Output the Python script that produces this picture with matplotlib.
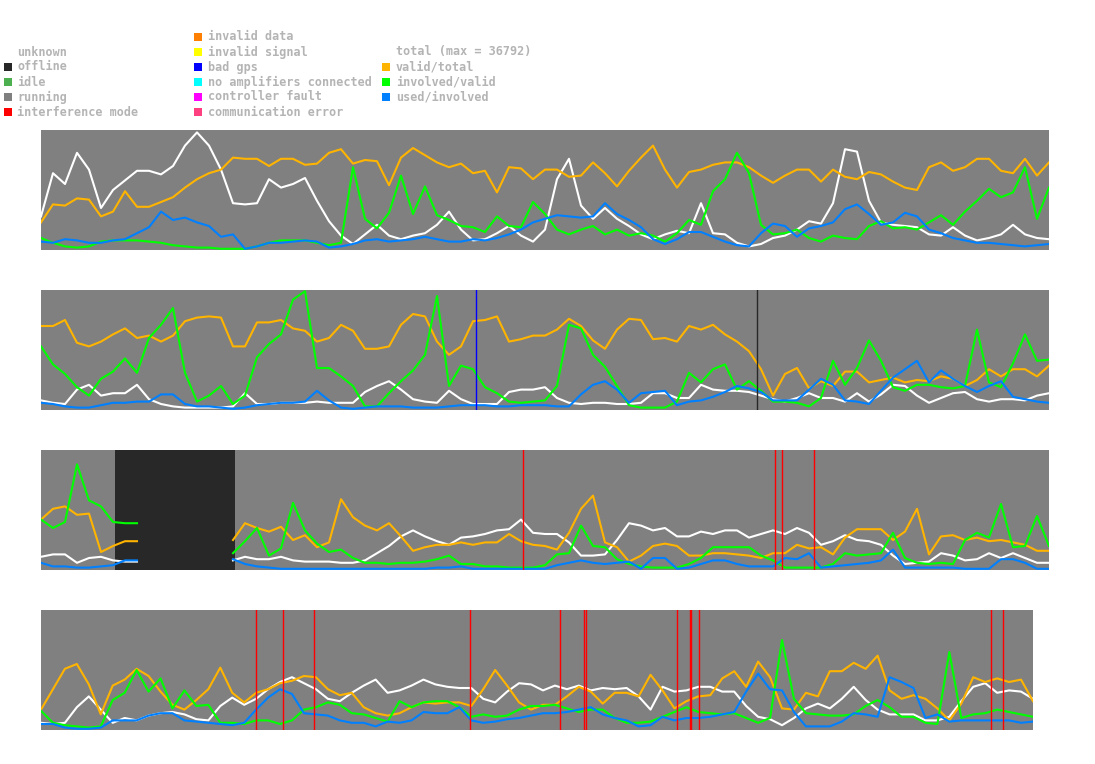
import numpy as np
import matplotlib
matplotlib.use('Agg')
import matplotlib.pyplot as plt
from matplotlib.patches import Rectangle

# ---- legend data ----
state_labels = ['unknown', 'offline', 'idle', 'running', 'interference mode']
state_colors = [None, '#282828', '#4caf50', '#808080', '#ff0000']
error_labels = ['invalid data', 'invalid signal', 'bad gps', 'no amplifiers connected',
                'controller fault', 'communication error']
error_colors = ['#ff8000', '#ffff00', '#0000ff', '#00ffff', '#ff00ff', '#ff4080']
ratio_labels = ['total (max = 36792)', 'valid/total', 'involved/valid', 'used/involved']
ratio_colors = ['#ffffff', '#ffb400', '#00ff00', '#0080ff']

# ---- series (percent of panel height), one sample every 12 px ----
p1_total = [28, 64, 55, 81, 67, 35, 50, 58, 66, 66, 63, 70, 87, 98, 87, 67, 39, 38, 39, 59,
            52, 55, 60, 41, 24, 12, 5, 13, 21, 12, 9, 12, 14, 21, 32, 17, 8, 9, 14, 20,
            12, 7, 17, 59, 76, 37, 26, 35, 26, 20, 13, 9, 13, 16, 14, 39, 14, 13, 6, 3,
            5, 10, 12, 17, 24, 22, 39, 84, 82, 41, 23, 21, 20, 19, 13, 12, 19, 12, 8, 10,
            13, 21, 13, 10, 9]
p1_valid = [23, 38, 37, 43, 42, 28, 32, 49, 36, 36, 40, 44, 52, 59, 64, 67, 77, 76, 76, 70,
            76, 76, 71, 72, 81, 84, 72, 75, 74, 54, 77, 85, 79, 73, 69, 72, 64, 66, 48, 69,
            68, 59, 67, 67, 61, 62, 73, 64, 53, 66, 77, 87, 67, 52, 65, 67, 71, 73, 73, 69,
            62, 56, 62, 67, 67, 57, 67, 61, 59, 65, 63, 57, 52, 50, 69, 73, 66, 69, 76, 76,
            66, 64, 76, 62, 73]
p1_involved = [10, 6, 3, 2, 3, 7, 8, 8, 8, 7, 6, 4, 3, 2, 2, 1, 1, 1, 3, 6,
               8, 8, 8, 6, 4, 6, 69, 26, 18, 31, 62, 30, 53, 29, 25, 20, 19, 15, 28, 20,
               19, 40, 30, 17, 13, 17, 20, 13, 17, 12, 14, 12, 7, 14, 25, 21, 49, 59, 81, 64,
               21, 13, 14, 17, 10, 7, 12, 10, 9, 20, 24, 18, 19, 17, 23, 29, 21, 32, 41, 51,
               44, 48, 69, 26, 52]
p1_used = [7, 6, 9, 8, 6, 6, 8, 9, 14, 19, 32, 25, 27, 23, 20, 11, 13, 1, 3, 6,
           6, 7, 8, 7, 2, 3, 5, 8, 9, 7, 8, 9, 11, 9, 7, 7, 9, 8, 10, 13,
           17, 23, 26, 29, 28, 27, 28, 39, 30, 25, 19, 9, 5, 9, 15, 15, 11, 7, 4, 3,
           14, 22, 20, 11, 18, 20, 23, 34, 38, 30, 21, 23, 31, 28, 17, 14, 10, 8, 6, 6,
           5, 4, 3, 4, 5]

p2_total = [8, 6, 5, 17, 21, 12, 14, 14, 21, 9, 5, 3, 2, 2, 2, 2, 3, 14, 5, 5,
            6, 6, 6, 7, 6, 6, 6, 15, 20, 24, 17, 9, 7, 6, 16, 9, 5, 5, 5, 15,
            17, 17, 19, 10, 6, 5, 6, 6, 5, 5, 6, 14, 14, 10, 10, 21, 17, 16, 16, 15,
            12, 9, 7, 10, 14, 10, 10, 7, 14, 7, 13, 21, 20, 12, 6, 10, 14, 15, 9, 7,
            9, 9, 8, 12, 14]
p2_valid = [70, 70, 75, 56, 53, 57, 63, 68, 60, 62, 57, 62, 74, 77, 78, 77, 53, 53, 73, 73,
            75, 68, 66, 57, 60, 71, 66, 51, 51, 53, 71, 80, 78, 57, 46, 53, 74, 75, 78, 57,
            59, 62, 62, 67, 76, 70, 58, 51, 67, 76, 75, 59, 60, 57, 70, 67, 71, 63, 57, 49,
            34, 12, 30, 35, 18, 24, 20, 32, 32, 23, 25, 27, 23, 25, 24, 28, 26, 20, 25, 34,
            28, 34, 34, 28, 37]
p2_involved = [53, 38, 30, 19, 12, 26, 32, 43, 31, 60, 71, 85, 31, 7, 12, 20, 5, 12, 44, 55,
               63, 92, 99, 35, 35, 28, 20, 3, 3, 14, 24, 33, 46, 95, 20, 37, 34, 19, 14, 7,
               6, 7, 8, 20, 71, 68, 46, 36, 20, 4, 2, 2, 2, 7, 31, 23, 34, 38, 17, 24,
               16, 7, 7, 6, 3, 10, 41, 21, 35, 58, 41, 19, 16, 21, 21, 19, 18, 20, 67, 23,
               19, 39, 63, 41, 42]
p2_used = [6, 5, 3, 2, 2, 4, 6, 6, 7, 7, 13, 13, 5, 3, 3, 2, 1, 2, 4, 5,
           6, 6, 7, 16, 8, 2, 1, 2, 3, 3, 3, 2, 2, 2, 3, 4, 4, 4, 3, 3,
           4, 4, 4, 3, 3, 13, 21, 24, 17, 6, 14, 15, 16, 4, 7, 8, 11, 15, 20, 18,
           15, 8, 8, 8, 17, 26, 21, 8, 7, 5, 16, 27, 34, 41, 23, 33, 26, 20, 15, 20,
           24, 11, 9, 7, 6]

N = None  # no data while the station was offline
p3_total = [11, 13, 13, 6, 10, 11, 8, 7, 7, N, N, N, N, N, N, N, 8, 11, 9, 9,
            11, 8, 7, 7, 7, 6, 6, 8, 14, 20, 28, 33, 28, 24, 21, 27, 28, 30, 33, 34,
            42, 31, 30, 30, 23, 12, 12, 13, 25, 39, 37, 33, 35, 28, 28, 32, 30, 33, 33, 27,
            30, 33, 30, 35, 31, 21, 24, 29, 25, 24, 21, 12, 5, 6, 7, 14, 12, 8, 9, 14,
            10, 14, 10, 6, 6]
p3_valid = [42, 51, 53, 46, 47, 15, 20, 24, 24, N, N, N, N, N, N, N, 25, 39, 35, 32,
            36, 25, 29, 19, 23, 59, 44, 37, 33, 39, 28, 16, 19, 21, 21, 23, 21, 23, 23, 30,
            24, 21, 20, 17, 31, 51, 62, 23, 19, 7, 12, 20, 22, 20, 12, 12, 14, 14, 13, 12,
            10, 14, 14, 21, 18, 19, 13, 27, 34, 34, 34, 25, 32, 51, 13, 28, 29, 25, 27, 24,
            25, 23, 21, 16, 16]
p3_involved = [42, 35, 40, 88, 58, 53, 40, 39, 39, N, N, N, N, N, N, N, 14, 24, 35, 12,
               18, 56, 33, 22, 15, 17, 10, 6, 6, 5, 6, 6, 7, 9, 12, 5, 5, 3, 3, 2,
               2, 2, 4, 13, 14, 37, 20, 19, 9, 5, 3, 2, 2, 2, 5, 10, 19, 19, 19, 19,
               12, 8, 2, 2, 2, 2, 5, 14, 12, 13, 14, 31, 10, 6, 5, 6, 5, 25, 31, 27,
               55, 19, 20, 45, 20]
p3_used = [6, 3, 3, 2, 2, 3, 4, 8, 8, N, N, N, N, N, N, N, 9, 5, 3, 2,
           1, 1, 1, 1, 1, 1, 1, 1, 1, 1, 1, 1, 1, 2, 2, 3, 1, 1, 1, 1,
           1, 1, 1, 4, 6, 8, 6, 5, 6, 7, 1, 10, 10, 1, 2, 5, 8, 8, 5, 3,
           3, 3, 10, 9, 14, 2, 3, 4, 5, 6, 8, 17, 2, 2, 2, 2, 2, 1, 1, 1,
           9, 9, 6, 1, 1]

p4_total = [6, 5, 6, 19, 28, 17, 6, 10, 8, 12, 14, 15, 13, 9, 8, 20, 27, 21, 26, 34,
            40, 44, 39, 34, 26, 24, 31, 37, 42, 31, 33, 37, 42, 38, 36, 35, 35, 26, 23, 32,
            39, 38, 33, 37, 34, 37, 33, 35, 34, 35, 28, 17, 36, 32, 33, 36, 36, 32, 32, 20,
            11, 9, 4, 10, 18, 22, 18, 26, 36, 25, 17, 13, 13, 13, 8, 8, 11, 24, 36, 39,
            31, 33, 32, 26]
p4_valid = [17, 34, 51, 55, 38, 13, 37, 42, 51, 45, 32, 21, 17, 25, 34, 52, 31, 23, 31, 34,
            39, 41, 45, 44, 34, 29, 31, 19, 14, 12, 14, 19, 23, 22, 23, 23, 20, 34, 50, 37,
            23, 17, 21, 21, 28, 36, 32, 22, 31, 31, 28, 46, 33, 18, 24, 28, 29, 43, 49, 36,
            57, 44, 18, 17, 31, 28, 49, 49, 56, 51, 62, 33, 26, 29, 26, 18, 8, 22, 44, 40,
            43, 40, 42, 24]
p4_involved = [16, 6, 4, 3, 2, 3, 25, 31, 50, 32, 43, 18, 33, 20, 21, 6, 6, 5, 8, 8,
               5, 8, 17, 19, 23, 21, 14, 13, 10, 7, 24, 19, 23, 24, 24, 19, 11, 13, 11, 12,
               17, 20, 20, 21, 18, 15, 17, 17, 10, 6, 6, 7, 11, 15, 19, 15, 14, 13, 14, 10,
               6, 10, 75, 26, 14, 13, 12, 12, 13, 20, 25, 19, 11, 11, 6, 5, 65, 10, 13, 14,
               17, 15, 13, 11]
p4_used = [5, 5, 2, 1, 1, 2, 8, 8, 8, 12, 14, 14, 8, 7, 6, 5, 4, 6, 17, 27,
           34, 30, 14, 13, 12, 8, 6, 6, 3, 7, 6, 8, 15, 14, 14, 19, 8, 6, 7, 9,
           10, 12, 14, 14, 15, 17, 19, 13, 10, 8, 3, 4, 11, 8, 10, 10, 11, 13, 15, 32,
           47, 34, 33, 15, 3, 3, 3, 7, 14, 13, 11, 44, 40, 35, 10, 13, 7, 8, 8, 8,
           8, 8, 6, 7]

# ---- events (in sample index units) ----
p2_bad_gps = [36.25]
p2_offline = [59.67]
p3_offline_span = (6.17, 16.17)
p3_interference = [40.17, 61.17, 61.75, 64.42]
p4_interference = [17.99, 20.25, 22.84, 35.89, 43.42, 45.43, 45.6, 53.19,
                   54.3, 54.42, 55.08, 79.48, 80.49]

W, H = 1095, 764
fig = plt.figure(figsize=(W / 100, H / 100), dpi=100)
fig.patch.set_facecolor('white')


def px_axes(x0, y0, w, h):
    return fig.add_axes([x0 / W, 1 - (y0 + h) / H, w / W, h / H])


panels = [
    dict(box=(41, 130, 1008, 120), series=[p1_total, p1_valid, p1_involved, p1_used]),
    dict(box=(41, 290, 1008, 120), series=[p2_total, p2_valid, p2_involved, p2_used],
         events=[(p2_bad_gps, '#0000ff'), (p2_offline, '#282828')]),
    dict(box=(41, 450, 1008, 120), series=[p3_total, p3_valid, p3_involved, p3_used],
         events=[(p3_interference, '#ff0000')], span=p3_offline_span),
    dict(box=(41, 610, 992, 120), series=[p4_total, p4_valid, p4_involved, p4_used],
         events=[(p4_interference, '#ff0000')]),
]

for p in panels:
    ax = px_axes(*p['box'])
    ax.set_facecolor('#808080')
    n = len(p['series'][0])
    t = np.arange(n)
    for vals, col in zip(p['series'], ratio_colors):
        ax.plot(t, np.array(vals, dtype=float), color=col, lw=1.5, zorder=2)
    if 'span' in p:
        ax.axvspan(p['span'][0], p['span'][1], color='#282828', lw=0, zorder=1)
    for xs, col in p.get('events', []):
        for x in xs:
            ax.axvline(x, color=col, lw=1, zorder=3)
    ax.set_xlim(0, n - 1)
    ax.set_ylim(0, 100)
    ax.set_xticks([])
    ax.set_yticks([])
    for s in ax.spines.values():
        s.set_visible(False)

# ---- legend at the top, drawn in pixel positions ----
txt_kw = dict(color='#b4b4b4', fontsize=8.5, family='DejaVu Sans Mono',
              fontweight='bold', va='center', ha='left')


def legend_column(labels, colors, sq_x, txt_x, y_start):
    for i, (lab, col) in enumerate(zip(labels, colors)):
        y = y_start + 15 * i
        if col is not None and not (col == '#ffffff'):
            fig.add_artist(Rectangle((sq_x / W, 1 - (y + 4) / H), 8 / W, 8 / H,
                                     transform=fig.transFigure, color=col, lw=0))
        fig.text(txt_x / W, 1 - y / H, lab, **txt_kw)


legend_column(state_labels, state_colors, 4, 17, 52)
legend_column(error_labels, error_colors, 194, 208, 37)
legend_column(ratio_labels, ratio_colors, 382, 396, 52)

fig.savefig('out.png', dpi=100, facecolor='white')
